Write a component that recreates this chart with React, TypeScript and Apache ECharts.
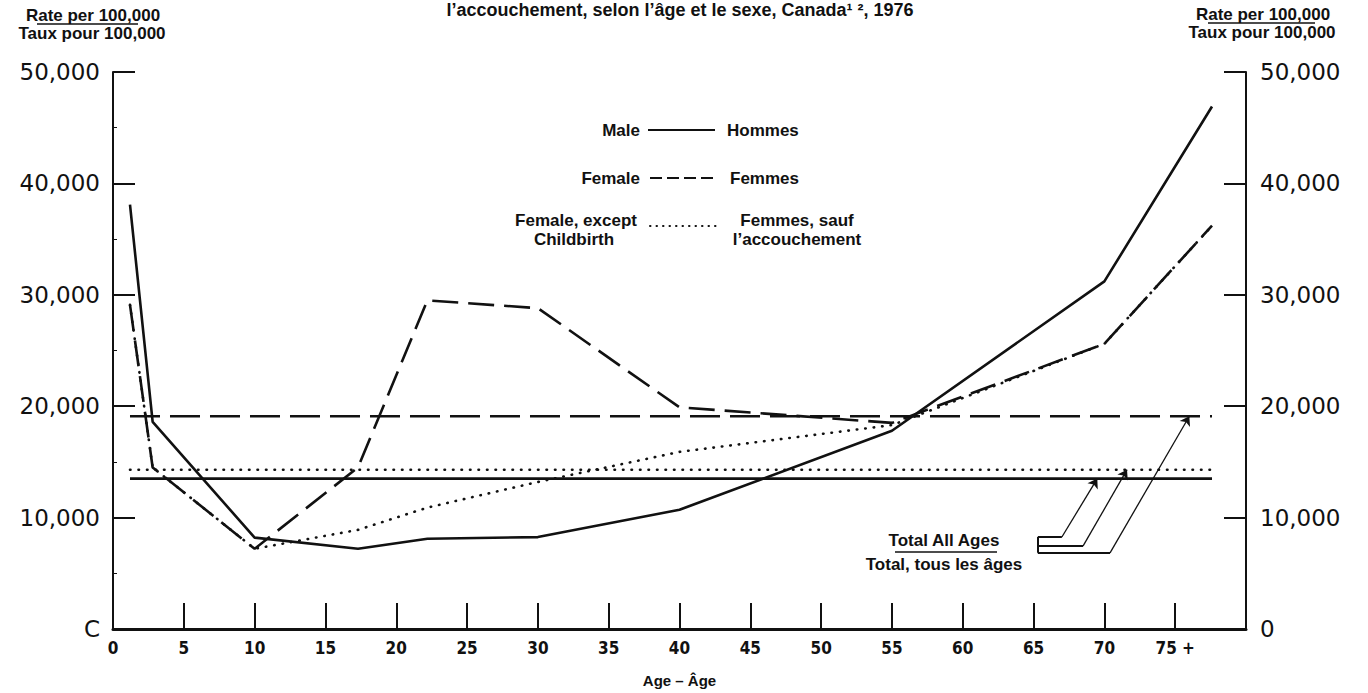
import React, { useEffect, useRef } from 'react';
import * as echarts from 'echarts';

// Age-group plotting positions (years)
const ages = [1.2, 2.8, 10, 17.3, 22.2, 30, 40, 55, 70, 77.6];
// Rates per 100,000
const male = [38100, 18600, 8200, 7200, 8100, 8250, 10700, 17800, 31200, 46900];
const female = [29100, 14500, 7200, 14500, 29500, 28800, 19900, 18500, 25600, 36200];
const femaleExceptChildbirth = [29100, 14500, 7200, 8900, 10900, 13200, 15900, 18300, 25600, 36200];

// "Total all ages" reference levels
const totalSpan = [1.2, 77.6];
const maleTotal = 13500;
const femaleTotal = 19100;
const femaleExceptTotal = 14300;

// Annotation leader lines (data coordinates)
const bracketAge = 65.3;
const arrowElbows = [[67.0, 8260], [68.5, 7460], [70.4, 6840]];
const arrowTips = [[69.5, maleTotal], [71.6, femaleExceptTotal], [76.0, femaleTotal]];

const INK = '#111';
const SANS = '"Liberation Sans", Arial, Helvetica, sans-serif';

export default function App() {
  const ref = useRef<HTMLDivElement>(null);

  useEffect(() => {
    document.body.style.margin = '0';
    const chart = echarts.init(ref.current!, undefined, { renderer: 'svg' });
    const pair = (arr: number[]) => ages.map((a, i) => [a, arr[i]]);
    const flat = (v: number) => totalSpan.map((a) => [a, v]);
    const t = (text: string, x: number, y: number, size: number, align = 'center') => ({
      type: 'text',
      x,
      y,
      silent: true,
      style: {
        text,
        fill: INK,
        font: `bold ${size}px ${SANS}`,
        align,
        textAlign: align,
        verticalAlign: 'middle',
        textVerticalAlign: 'middle',
      },
    });
    const ln = (x1: number, y1: number, x2: number, y2: number, w: number, dash?: number[]) => ({
      type: 'line',
      silent: true,
      shape: { x1, y1, x2, y2 },
      style: { stroke: INK, lineWidth: w, lineDash: dash, lineCap: dash && dash[0] < 2 ? 'round' : 'butt' },
    });

    const yLabelFont = { color: INK, fontSize: 23, fontFamily: '"DejaVu Sans", sans-serif' };
    const fmt = (v: number) => v.toLocaleString('en-US');

    const option: any = {
      animation: false,
      backgroundColor: '#ffffff',
      grid: { left: 113, right: 122, top: 72, bottom: 57 },
      xAxis: {
        type: 'value',
        min: 0,
        max: 80,
        interval: 5,
        axisLine: { lineStyle: { color: INK, width: 3 } },
        axisTick: { inside: true, length: 26, lineStyle: { color: INK, width: 2 } },
        axisLabel: {
          margin: 10,
          color: INK,
          fontSize: 17,
          fontWeight: 'bold',
          fontFamily: '"DejaVu Sans Condensed", "DejaVu Sans", sans-serif',
          formatter: (v: number) => (v === 80 ? '' : v === 75 ? '75 +' : String(v)),
        },
        splitLine: { show: false },
        name: 'Age – Âge',
        nameLocation: 'middle',
        nameGap: 44,
        nameTextStyle: { fontFamily: SANS, fontWeight: 'bold', fontSize: 15, color: INK },
      },
      yAxis: [
        {
          type: 'value',
          position: 'left',
          min: 0,
          max: 50000,
          interval: 10000,
          axisLine: { show: true, lineStyle: { color: INK, width: 2 } },
          axisTick: { show: true, inside: true, length: 22, lineStyle: { color: INK, width: 2 } },
          minorTick: { show: true, splitNumber: 2, length: 4, lineStyle: { color: INK, width: 1 } },
          axisLabel: { ...yLabelFont, margin: 13, formatter: (v: number) => (v === 0 ? 'C' : fmt(v)) },
          splitLine: { show: false },
        },
        {
          type: 'value',
          position: 'right',
          min: 0,
          max: 50000,
          interval: 10000,
          axisLine: { show: true, lineStyle: { color: INK, width: 2 } },
          axisTick: { show: true, inside: true, length: 22, lineStyle: { color: INK, width: 2 } },
          axisLabel: { ...yLabelFont, margin: 14, formatter: (v: number) => fmt(v) },
          splitLine: { show: false },
        },
      ],
      series: [
        {
          name: 'Male',
          type: 'line',
          data: pair(male),
          symbol: 'none',
          lineStyle: { color: INK, width: 2.6 },
          z: 3,
        },
        {
          name: 'Female',
          type: 'line',
          data: pair(female),
          symbol: 'none',
          lineStyle: { color: INK, width: 2.6, type: [26, 10] },
          z: 3,
        },
        {
          name: 'Female, except Childbirth',
          type: 'line',
          data: pair(femaleExceptChildbirth),
          symbol: 'none',
          lineStyle: { color: INK, width: 2.6, type: [0.5, 8], cap: 'round' },
          z: 3,
        },
        {
          name: 'Male total',
          type: 'line',
          data: flat(maleTotal),
          symbol: 'none',
          lineStyle: { color: INK, width: 2.6 },
        },
        {
          name: 'Female total',
          type: 'line',
          data: flat(femaleTotal),
          symbol: 'none',
          lineStyle: { color: INK, width: 2.6, type: [30, 10] },
        },
        {
          name: 'Female except childbirth total',
          type: 'line',
          data: flat(femaleExceptTotal),
          symbol: 'none',
          lineStyle: { color: INK, width: 2.6, type: [0.5, 8], cap: 'round' },
        },
        {
          type: 'lines',
          coordinateSystem: 'cartesian2d',
          symbol: ['none', 'arrow'],
          symbolSize: 9,
          silent: true,
          lineStyle: { color: INK, width: 1.3, opacity: 1, curveness: 0 },
          data: arrowElbows.map((e, i) => ({ coords: [e, arrowTips[i]] })),
        },
        {
          type: 'lines',
          coordinateSystem: 'cartesian2d',
          symbol: 'none',
          silent: true,
          lineStyle: { color: INK, width: 2, opacity: 1, curveness: 0 },
          data: [
            ...arrowElbows.map((e) => ({ coords: [[bracketAge, e[1]], e] })),
            { coords: [[bracketAge, arrowElbows[0][1]], [bracketAge, arrowElbows[2][1]]] },
          ],
        },
      ],
      graphic: [
        t('l’accouchement, selon l’âge et le sexe, Canada¹ ², 1976', 680, 10, 18),
        t('Rate per 100,000', 93, 15, 17),
        ln(37, 24, 138, 24, 1.5),
        t('Taux pour 100,000', 92, 33, 17),
        t('Rate per 100,000', 1263, 14, 17),
        ln(1208, 23, 1315, 23, 1.5),
        t('Taux pour 100,000', 1262, 32, 17),
        // legend
        t('Male', 640, 130, 17, 'right'),
        ln(648, 130, 715, 130, 2),
        t('Hommes', 727, 130, 17, 'left'),
        t('Female', 640, 178, 17, 'right'),
        ln(650, 178, 715, 178, 2.2, [12, 5]),
        t('Femmes', 730, 178, 17, 'left'),
        t('Female, except', 576, 220, 17),
        t('Childbirth', 574, 239, 17),
        ln(650, 226, 716, 226, 2, [0.5, 6]),
        t('Femmes, sauf', 797, 220, 17),
        t('l’accouchement', 797, 239, 17),
        // total annotation
        t('Total All Ages', 944, 540, 17),
        ln(895, 552, 997, 552, 1.5),
        t('Total, tous les âges', 944, 564, 17),
      ],
    };

    chart.setOption(option);
    return () => chart.dispose();
  }, []);

  return <div ref={ref} style={{ width: 1368, height: 693 }} />;
}
